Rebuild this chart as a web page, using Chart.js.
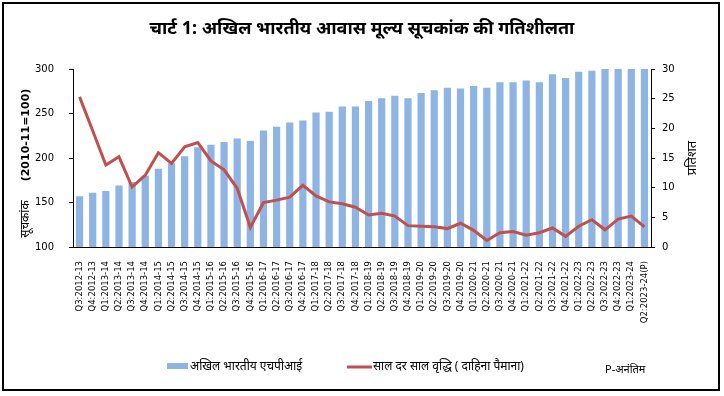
<!DOCTYPE html>
<html>
<head>
<meta charset="utf-8">
<script src="https://cdn.jsdelivr.net/npm/chart.js@4.4.1/dist/chart.umd.min.js"></script>
<style>
  html, body { margin: 0; padding: 0; background: #fff; }
</style>
</head>
<body>
<canvas id="myChart" width="724" height="396"></canvas>
<script>
// data
const quarters = [
  "Q3:2012-13", "Q4:2012-13",
  "Q1:2013-14", "Q2:2013-14", "Q3:2013-14", "Q4:2013-14",
  "Q1:2014-15", "Q2:2014-15", "Q3:2014-15", "Q4:2014-15",
  "Q1:2015-16", "Q2:2015-16", "Q3:2015-16", "Q4:2015-16",
  "Q1:2016-17", "Q2:2016-17", "Q3:2016-17", "Q4:2016-17",
  "Q1:2017-18", "Q2:2017-18", "Q3:2017-18", "Q4:2017-18",
  "Q1:2018-19", "Q2:2018-19", "Q3:2018-19", "Q4:2018-19",
  "Q1:2019-20", "Q2:2019-20", "Q3:2019-20", "Q4:2019-20",
  "Q1:2020-21", "Q2:2020-21", "Q3:2020-21", "Q4:2020-21",
  "Q1:2021-22", "Q2:2021-22", "Q3:2021-22", "Q4:2021-22",
  "Q1:2022-23", "Q2:2022-23", "Q3:2022-23", "Q4:2022-23",
  "Q1:2023-24", "Q2:2023-24(P)"
];

const hpiIndex = [
  157, 161, 163, 169, 173, 180, 188, 194, 202, 212,
  215, 218, 222, 219, 231, 235, 240, 242, 251, 252,
  258, 258, 264, 267, 270, 267, 273, 276, 279, 278,
  281, 279, 285, 285, 287, 285, 294, 290, 297, 298,
  300, 300, 300, 300
];

const yoyGrowth = [
  25.3, 19.6, 13.8, 15.2, 10.1, 12.1, 15.9, 14.1, 16.9, 17.6,
  14.5, 13.0, 9.9, 3.3, 7.5, 7.9, 8.4, 10.4, 8.6, 7.6,
  7.3, 6.7, 5.4, 5.7, 5.2, 3.6, 3.5, 3.4, 3.1, 4.0,
  2.8, 1.1, 2.4, 2.6, 2.0, 2.4, 3.2, 1.8, 3.5, 4.6,
  2.9, 4.7, 5.2, 3.4
];

const leftTicks = [100, 150, 200, 250, 300];
const rightTicks = [0, 5, 10, 15, 20, 25, 30];

const chartTitle = "चार्ट 1: अखिल भारतीय आवास मूल्य सूचकांक की गतिशीलता";
const leftTitleWord = "सूचकांक";
const leftTitleBase = "(2010-11=100)";
const rightTitle = "प्रतिशत";
const barLabel = "अखिल भारतीय एचपीआई";
const lineLabel = "साल दर साल वृद्धि ( दाहिना पैमाना)";
const noteText = "P-अनंतिम";

const barColor = "#8DB4E2";
const lineColor = "#C0504D";
const tickFont = "'DejaVu Sans', Verdana, sans-serif";
const textFont = "'Noto Sans', 'DejaVu Sans', sans-serif";

// title, axis titles, legend and frame are drawn by hand
const extras = {
  id: "extras",
  afterDraw(chart) {
    const ctx = chart.ctx;
    const area = chart.chartArea;
    const midY = (area.top + area.bottom) / 2;
    ctx.save();
    ctx.fillStyle = "#000";

    ctx.font = "bold 18px " + textFont;
    ctx.textAlign = "center";
    ctx.textBaseline = "middle";
    ctx.fillText(chartTitle, 362, 29);

    // left axis title: word near the bottom, base period above it
    ctx.save();
    ctx.translate(26, 0);
    ctx.rotate(-Math.PI / 2);
    ctx.font = "12px " + textFont;
    ctx.fillText(leftTitleWord, -219, 0);
    ctx.font = "bold 11px " + tickFont;
    ctx.fillText(leftTitleBase, -135, 0);
    ctx.restore();

    ctx.save();
    ctx.translate(692, midY);
    ctx.rotate(-Math.PI / 2);
    ctx.font = "13px " + textFont;
    ctx.fillText(rightTitle, 0, 0);
    ctx.restore();

    // legend
    ctx.textAlign = "left";
    ctx.font = "12px " + textFont;
    ctx.fillStyle = barColor;
    ctx.fillRect(167, 363, 21, 6);
    ctx.fillStyle = "#000";
    ctx.fillText(barLabel, 190, 367);

    ctx.strokeStyle = lineColor;
    ctx.lineWidth = 3;
    ctx.beginPath();
    ctx.moveTo(347, 367);
    ctx.lineTo(372, 367);
    ctx.stroke();
    ctx.fillText(lineLabel, 373, 367);

    ctx.font = "11px " + textFont;
    ctx.fillText(noteText, 605, 370);

    ctx.strokeStyle = "#000";
    ctx.lineWidth = 2;
    ctx.strokeRect(3, 3, 716, 387);
    ctx.restore();
  }
};

const ctx = document.getElementById("myChart").getContext("2d");

new Chart(ctx, {
  data: {
    labels: quarters,
    datasets: [
      {
        type: "line",
        label: lineLabel,
        data: yoyGrowth,
        yAxisID: "y1",
        borderColor: lineColor,
        borderWidth: 3,
        pointRadius: 0,
        tension: 0,
        order: 0
      },
      {
        type: "bar",
        label: barLabel,
        data: hpiIndex,
        yAxisID: "y",
        backgroundColor: barColor,
        categoryPercentage: 1,
        barPercentage: 0.55,
        order: 1
      }
    ]
  },
  options: {
    responsive: false,
    animation: false,
    layout: { padding: { top: 69, bottom: 49, left: 0, right: 0 } },
    plugins: {
      legend: { display: false },
      tooltip: { enabled: false }
    },
    scales: {
      x: {
        grid: { display: false },
        border: { color: "#000", width: 1 },
        ticks: {
          autoSkip: false,
          minRotation: 90,
          maxRotation: 90,
          padding: 6,
          color: "#000",
          font: { family: tickFont, size: 8.5 }
        },
        afterFit(scale) { scale.height = 100; }
      },
      y: {
        position: "left",
        min: leftTicks[0],
        max: leftTicks[leftTicks.length - 1],
        afterBuildTicks(scale) { scale.ticks = leftTicks.map(v => ({ value: v })); },
        grid: { drawOnChartArea: false, tickLength: 4, color: "#000" },
        border: { color: "#000", width: 1 },
        ticks: {
          padding: 15,
          color: "#000",
          font: { family: tickFont, size: 10 }
        },
        afterFit(scale) { scale.width = 73; }
      },
      y1: {
        position: "right",
        min: rightTicks[0],
        max: rightTicks[rightTicks.length - 1],
        afterBuildTicks(scale) { scale.ticks = rightTicks.map(v => ({ value: v })); },
        grid: { drawOnChartArea: false, tickLength: 4, color: "#000" },
        border: { color: "#000", width: 1 },
        ticks: {
          padding: 7,
          color: "#000",
          font: { family: tickFont, size: 10 }
        },
        afterFit(scale) { scale.width = 73; }
      }
    }
  },
  plugins: [extras]
});
</script>
</body>
</html>
